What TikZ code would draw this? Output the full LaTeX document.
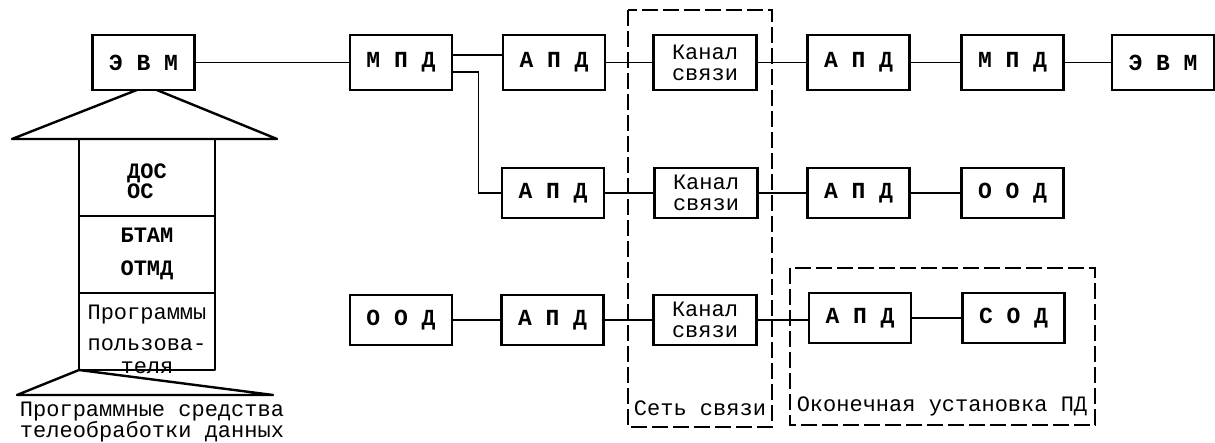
\documentclass[tikz,border=0pt]{standalone}
\usepackage{fontspec}
\setmainfont{Liberation Mono}
\usetikzlibrary{calc}
\begin{document}
\begin{tikzpicture}[x=1pt,y=-1pt,
  blk/.style={draw,line width=2.4pt,fill=white,minimum width=102pt,minimum height=50pt,inner sep=0pt,font=\fontsize{23}{22}\selectfont\bfseries},
  tblk/.style={blk,minimum height=55pt},
  kan/.style={draw,line width=2.4pt,fill=white,minimum width=103pt,minimum height=50pt,inner sep=0pt,align=center,font=\fontsize{22}{21}\selectfont},
  conn/.style={line width=1.1pt},
  frame/.style={line width=1.2pt,dash pattern=on 16pt off 5pt},
  thick2/.style={line width=2.4pt,line join=round},
  txt/.style={inner sep=0pt,font=\fontsize{22}{20}\selectfont},
  btxt/.style={txt,font=\fontsize{22}{20}\selectfont\bfseries}]
\useasboundingbox (0,0) rectangle (1215,443);
% dashed frames
\draw[frame] (628,10) rectangle (772,427);
\draw[frame] (790,268) rectangle (1095,425);
% left stack
\draw[thick2,fill=white] (12,139) -- (147,86) -- (277,139) -- cycle;
\draw[thick2] (79,139) rectangle (215,370);
\draw[thick2] (79,216) -- (215,216);
\draw[thick2] (79,293) -- (215,293);
\draw[thick2] (79,370) -- (273,395) -- (17,395) -- cycle;
\node[btxt,align=left] (dos) at (147,181) {ДОС\\ОС};
\node[btxt] (btam) at (147,235) {БТАМ};
\node[btxt] (otmd) at (147,270) {ОТМД};
\node[txt] (prog) at (147,315) {Программы};
\node[txt] (polz) at (147,345) {пользова-};
\node[txt] (tela) at (147,368) {теля};
\node[txt,align=center] (cap) at (152,422) {Программные средства\\телеобработки данных};
% top row
\node[tblk] (evm1) at (143.5,62.5) {Э В М};
\node[tblk] (mpd1) at (401,62.5) {М П Д};
\node[tblk] (apd1) at (554,62.5) {А П Д};
\node[kan,minimum height=55pt] (kan1) at (705,62.5) {Канал\\связи};
\node[tblk] (apd2) at (858.5,62.5) {А П Д};
\node[tblk] (mpd2) at (1012.5,62.5) {М П Д};
\node[tblk] (evm2) at (1163,62.5) {Э В М};
% middle row
\node[blk] (apd3) at (553,193) {А П Д};
\node[kan] (kan2) at (706,193) {Канал\\связи};
\node[blk] (apd4) at (858.5,193) {А П Д};
\node[blk] (ood2) at (1012.5,193) {О О Д};
% bottom row
\node[blk] (ood1) at (401,320) {О О Д};
\node[blk] (apd5) at (552.5,320) {А П Д};
\node[kan] (kan3) at (705,320) {Канал\\связи};
\node[blk] (apd6) at (860,318) {А П Д};
\node[blk] (sod) at (1013.5,318) {С О Д};
% labels of frames
\node[txt] (setlbl) at (700,408) {Сеть связи};
\node[txt] (okolbl) at (942,406) {Оконечная установка ПД};
% connectors
\draw[conn] (evm1.east) -- (mpd1.west);
\coordinate (m1) at ($(mpd1.east)+(0,-7.5)$);
\coordinate (m2) at ($(mpd1.east)+(0,9.5)$);
\draw[conn] (m1) -- (m1 -| apd1.west);
\draw[conn] (m2) -- ++(25,0) |- (apd3.west);
\draw[conn] (apd1.east) -- (kan1.west);
\draw[conn] (kan1.east) -- (apd2.west);
\draw[conn] (apd2.east) -- (mpd2.west);
\draw[conn] (mpd2.east) -- (evm2.west);
\draw[conn] (apd3.east) -- (kan2.west);
\draw[conn] (kan2.east) -- (apd4.west);
\draw[conn] (apd4.east) -- (ood2.west);
\draw[conn] (ood1.east) -- (apd5.west);
\draw[conn] (apd5.east) -- (kan3.west);
\draw[conn] (kan3.east) -- (apd6.west |- kan3.east);
\draw[conn] (apd6.east) -- (sod.west);
\end{tikzpicture}
\end{document}
